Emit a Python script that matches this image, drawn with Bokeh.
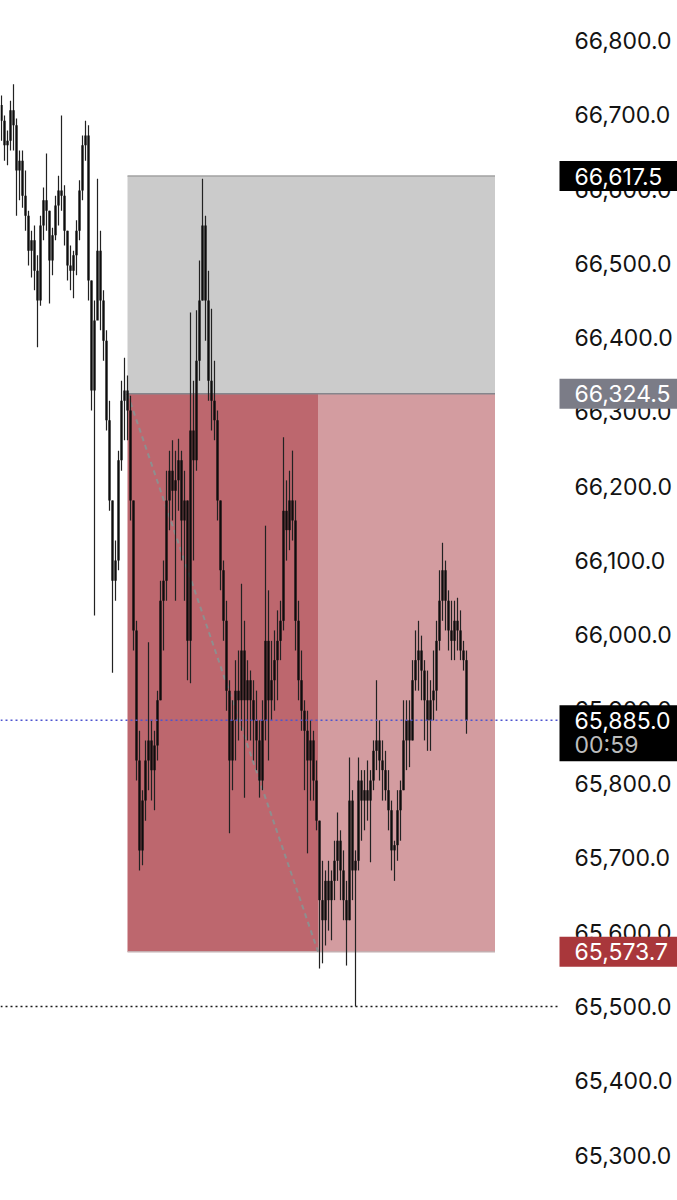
from bokeh.plotting import figure
from bokeh.models import Range1d
from bokeh.core.properties import value
from bokeh.embed import file_html
from bokeh.resources import INLINE

# ---------------- data (1-minute bars) ----------------
first_open = 66713
highs = [66726, 66699, 66679, 66719, 66741, 66695, 66652, 66652, 66625, 66571,
         66544, 66551, 66511, 66564, 66602, 66648, 66571, 66548, 66591, 66618,
         66699, 66605, 66544, 66524, 66517, 66558, 66612, 66672, 66692, 66686,
         66477, 66450, 66614, 66544, 66464, 66410, 66315, 66181, 66127, 66248,
         66342, 66373, 66349, 66322, 66181, 66019, 65871, 65791, 65858, 65990,
         65885, 65871, 65925, 66073, 66100, 66221, 66248, 66262, 66248, 66264,
         66248, 66221, 66181, 66434, 66342, 66437, 66504, 66614, 66564, 66490,
         66439, 66369, 66302, 66181, 66100, 66046, 65939, 65912, 65966, 65979,
         66069, 66019, 65966, 65952, 65939, 65925, 65885, 65912, 66147, 66060,
         65992, 66006, 66033, 66046, 66266, 66208, 66221, 66248, 66181, 66046,
         65979, 65912, 65898, 65885, 65871, 65831, 65750, 65696, 65683, 65696,
         65683, 65723, 65761, 65737, 65710, 65669, 65835, 65791, 65710, 65835,
         65818, 65818, 65831, 65818, 65858, 65939, 65885, 65858, 65844, 65818,
         65777, 65723, 65791, 65804, 65912, 65912, 65912, 65966, 66006, 66019,
         65999, 65966, 65952, 65939, 65979, 66019, 66087, 66124, 66100, 66060,
         66046, 66046, 66050, 66033, 65992, 65979]
lows = [66665, 66638, 66632, 66652, 66652, 66564, 66585, 66575, 66544, 66497,
        66481, 66464, 66387, 66443, 66531, 66544, 66446, 66484, 66531, 66551,
        66571, 66524, 66477, 66464, 66453, 66484, 66531, 66585, 66638, 66450,
        66302, 66026, 66450, 66410, 66369, 66275, 66167, 65949, 66046, 66087,
        66221, 66262, 66262, 66154, 65979, 65804, 65683, 65690, 65750, 65791,
        65777, 65764, 65831, 65912, 65979, 66046, 66141, 66154, 66046, 66167,
        66100, 66046, 65939, 65935, 66100, 66221, 66342, 66450, 66396, 66315,
        66275, 66262, 66154, 66060, 65992, 65898, 65733, 65791, 65831, 65858,
        65871, 65781, 65858, 65858, 65831, 65818, 65781, 65791, 65858, 65831,
        65885, 65898, 65912, 65966, 66006, 66100, 66114, 66127, 65979, 65912,
        65871, 65791, 65706, 65777, 65777, 65737, 65551, 65558, 65582, 65602,
        65589, 65643, 65669, 65643, 65616, 65555, 65616, 65643, 65500, 65683,
        65723, 65737, 65750, 65694, 65791, 65818, 65804, 65777, 65777, 65737,
        65683, 65669, 65696, 65723, 65791, 65818, 65822, 65858, 65925, 65925,
        65912, 65858, 65844, 65844, 65885, 65898, 65979, 66019, 66006, 65979,
        65966, 65966, 65979, 65966, 65952, 65867]
closes = [66692, 66659, 66665, 66706, 66686, 66625, 66638, 66591, 66564, 66517,
          66531, 66490, 66450, 66551, 66585, 66571, 66504, 66538, 66578, 66598,
          66591, 66544, 66497, 66490, 66511, 66544, 66598, 66659, 66672, 66477,
          66329, 66423, 66517, 66450, 66396, 66289, 66181, 66073, 66100, 66235,
          66315, 66329, 66302, 66181, 66006, 65831, 65710, 65777, 65831, 65858,
          65818, 65851, 65912, 66046, 66073, 66181, 66221, 66194, 66208, 66235,
          66154, 66181, 65992, 66275, 66235, 66369, 66450, 66551, 66450, 66342,
          66315, 66289, 66181, 66087, 66019, 65925, 65831, 65885, 65925, 65912,
          65979, 65912, 65939, 65912, 65885, 65858, 65804, 65885, 65992, 65912,
          65939, 65966, 65992, 66019, 66167, 66141, 66181, 66154, 66019, 65939,
          65898, 65871, 65831, 65858, 65804, 65750, 65643, 65616, 65669, 65643,
          65669, 65696, 65723, 65683, 65643, 65616, 65777, 65683, 65696, 65804,
          65777, 65791, 65777, 65804, 65844, 65858, 65831, 65818, 65791, 65764,
          65710, 65717, 65764, 65791, 65858, 65885, 65858, 65939, 65966, 65979,
          65952, 65912, 65885, 65912, 65925, 65992, 66046, 66087, 66046, 66006,
          65992, 66019, 66006, 65979, 65966, 65885]

# position tool (short): entry, stop, target, bars
entry_price = 66324.5
stop_price = 66617.5
target_price = 65573.7
entry_bar = 42
hit_bar = 105.5
end_bar = 164.5
last_price = 65885.0
countdown = "00:59"
low_line = 65500.0

price_ticks = [65300, 65400, 65500, 65600, 65700, 65800, 65900,
               66000, 66100, 66200, 66300, 66400, 66500, 66600, 66700, 66800]

# ---------------- layout ----------------
W, H = 677, 1200
X0, X1 = -0.3333, 225.3333          # bar-index range across the whole canvas
Y0, Y1 = 65238.8, 66853.8
pane_right = 185.3333               # right edge of the chart pane (price scale starts here)
tag_left = 186.0
scale_text_x = 191.0
ppx = (Y1 - Y0) / H                  # price units per pixel

FONT = value("Inter")
FS = value("23px")

# ---------------- derived ----------------
n = len(closes)
idx = list(range(n))
opens = [first_open] + closes[:-1]
tops = [max(o, c) for o, c in zip(opens, closes)]
bots = [min(o, c) for o, c in zip(opens, closes)]

p = figure(width=W, height=H, x_range=Range1d(X0, X1), y_range=Range1d(Y0, Y1),
           output_backend="svg", toolbar_location=None,
           x_axis_location=None, y_axis_location=None,
           min_border=0, background_fill_color="white", border_fill_color="white")
p.outline_line_color = None
p.grid.visible = False

# position tool zones
p.quad(left=[entry_bar], right=[end_bar], bottom=[entry_price], top=[stop_price],
       fill_color="#cbcbcb", line_color=None)
p.quad(left=[entry_bar], right=[hit_bar], bottom=[target_price], top=[entry_price],
       fill_color="#bd676e", line_color=None)
p.quad(left=[hit_bar], right=[end_bar], bottom=[target_price], top=[entry_price],
       fill_color="#d39ca0", line_color=None)
p.segment(x0=[entry_bar], x1=[end_bar], y0=[stop_price], y1=[stop_price],
          line_color="#a2a2a2", line_width=1.5)
p.segment(x0=[entry_bar], x1=[end_bar], y0=[entry_price], y1=[entry_price],
          line_color="#85858c", line_width=1.5)
p.segment(x0=[entry_bar], x1=[end_bar], y0=[target_price], y1=[target_price],
          line_color="#c4aeb0", line_width=1.5)
p.segment(x0=[entry_bar], x1=[hit_bar], y0=[entry_price], y1=[target_price],
          line_color="#8e8e8e", line_width=2, line_dash="5 4")

# candles
p.segment(x0=idx, x1=idx, y0=lows, y1=highs, line_color="#222222", line_width=1.2)
p.vbar(x=idx, width=0.78, top=tops, bottom=bots, fill_color="#0d0d0d", line_color=None)

# horizontal lines across the pane
p.segment(x0=[X0], x1=[pane_right], y0=[last_price], y1=[last_price],
          line_color="#4e55d0", line_width=1.5, line_dash="2 3")
p.segment(x0=[X0], x1=[pane_right], y0=[low_line], y1=[low_line],
          line_color="#1a1a1a", line_width=1.5, line_dash="2 3")

# price scale labels
p.text(x=[scale_text_x] * len(price_ticks), y=price_ticks,
       text=[f"{t:,.1f}" for t in price_ticks],
       text_font=FONT, text_font_size=FS, text_color="#131313",
       text_align="left", text_baseline="middle")

# price tags
tag_prices = [stop_price, entry_price, target_price]
tag_colors = ["#000000", "#7b7c87", "#a9373b"]
p.quad(left=[tag_left] * 3, right=[X1] * 3,
       bottom=[v - 15 * ppx for v in tag_prices], top=[v + 15 * ppx for v in tag_prices],
       fill_color=tag_colors, line_color=None)
p.text(x=[scale_text_x] * 3, y=tag_prices, text=[f"{v:,.1f}" for v in tag_prices],
       text_font=FONT, text_font_size=FS, text_color="white",
       text_align="left", text_baseline="middle")

p.quad(left=[tag_left], right=[X1], bottom=[last_price - 41 * ppx],
       top=[last_price + 15 * ppx], fill_color="#000000", line_color=None)
p.text(x=[scale_text_x], y=[last_price], text=[f"{last_price:,.1f}"],
       text_font=FONT, text_font_size=FS, text_color="white",
       text_align="left", text_baseline="middle")
p.text(x=[scale_text_x], y=[last_price], y_offset=25, text=[countdown],
       text_font=FONT, text_font_size=FS, text_color="#bdbdbd",
       text_align="left", text_baseline="middle")

open("out.html", "w").write(file_html(p, INLINE))
